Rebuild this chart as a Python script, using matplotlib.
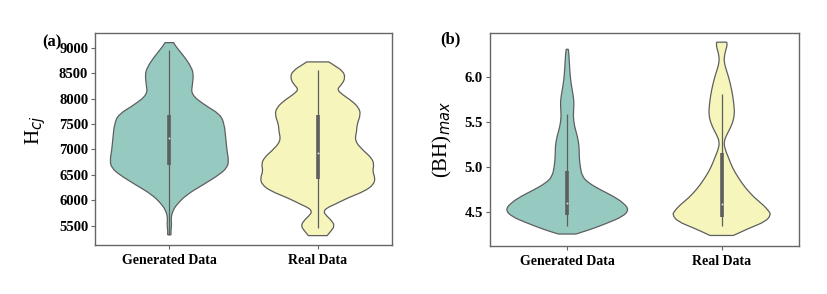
import numpy as np
import matplotlib
matplotlib.use("Agg")
import matplotlib.pyplot as plt
import seaborn as sns
from matplotlib.path import Path
from matplotlib.patches import PathPatch

plt.rcParams['font.family'] = ['Liberation Serif', 'DejaVu Serif']

groups = ["Generated Data", "Real Data"]

# violin outlines: level, relative half width (bottom -> top)
gen_hcj_lev = [5320, 5391, 5521, 5653, 5786, 5916, 6113, 6310, 6508, 6640, 6772, 6969,
               7231, 7494, 7691, 7888, 8086, 8283, 8480, 8612, 8809, 9006, 9104]
gen_hcj_w = [5, 4.5, 7, 5, 10, 22, 52, 102, 150, 172, 177, 172,
             168, 164, 152, 102, 65, 69, 72, 66, 47, 22, 12.5]
real_hcj_lev = [5303, 5391, 5489, 5588, 5719, 5786, 5851, 5916, 6048, 6179, 6310, 6442,
                6574, 6705, 6837, 6969, 7165, 7363, 7494, 7691, 7823, 7954, 8086, 8184,
                8283, 8414, 8546, 8677, 8724]
real_hcj_w = [28, 39, 50, 43, 22, 18, 28, 50, 90, 140, 167, 171,
              163, 168, 160, 137, 110, 116, 117, 128, 122, 102, 72, 57,
              72, 82, 75, 44, 33]

gen_bh_lev = [4.256, 4.303, 4.377, 4.451, 4.526, 4.600, 4.674, 4.748, 4.822, 4.896, 5.007,
              5.118, 5.229, 5.340, 5.451, 5.563, 5.674, 5.748, 5.859, 5.970, 6.118, 6.266, 6.311]
gen_bh_w = [26, 68, 120, 168, 186, 170, 140, 100, 65, 45, 39,
            36, 36, 31, 22, 18, 20, 20, 15, 10, 7, 5, 3]
real_bh_lev = [4.240, 4.322, 4.396, 4.470, 4.507, 4.581, 4.655, 4.766, 4.877, 4.989, 5.100,
               5.211, 5.285, 5.359, 5.470, 5.581, 5.692, 5.803, 5.914, 6.026, 6.137, 6.211,
               6.285, 6.360, 6.390]
real_bh_w = [35, 83, 133, 148, 143, 125, 100, 72, 51, 33, 21,
             9, 7, 15, 31, 39, 37, 33, 27, 19, 9, 7,
             11, 17, 15]

# box stats: whisker low, q1, median, q3, whisker high
gen_hcj_box = [5320, 6686, 7225, 7688, 8960]
real_hcj_box = [5462, 6413, 6932, 7688, 8562]
gen_bh_box = [4.34, 4.47, 4.60, 4.96, 5.59]
real_bh_box = [4.35, 4.45, 4.59, 5.155, 5.81]

pal = sns.color_palette("Set3", 2, desat=0.75)
gray = "#5e5e5e"


def smooth_side(pts):
    # quadratic curves through midpoints, so the outline has no corners
    verts = [pts[0]]
    codes = [Path.LINETO]
    for k in range(1, len(pts) - 1):
        mid = ((pts[k][0] + pts[k + 1][0]) / 2, (pts[k][1] + pts[k + 1][1]) / 2)
        verts += [pts[k], mid]
        codes += [Path.CURVE3, Path.CURVE3]
    verts.append(pts[-1])
    codes.append(Path.LINETO)
    return verts, codes


def violin_path(pos, lev, half):
    right = [(pos + h, y) for y, h in zip(lev, half)]
    left = [(pos - h, y) for y, h in zip(lev, half)][::-1]
    v1, c1 = smooth_side(right)
    v2, c2 = smooth_side(left)
    verts = [(pos - half[0], lev[0])] + v1 + v2 + [(0, 0)]
    codes = [Path.MOVETO] + c1 + c2 + [Path.CLOSEPOLY]
    return Path(verts, codes)


def draw_panel(ax, violins, boxes):
    wmax = max(max(w) for _, w in violins)
    for i, ((lev, w), box) in enumerate(zip(violins, boxes)):
        half = list(np.array(w) / wmax * 0.4)
        ax.add_patch(PathPatch(violin_path(i, lev, half), facecolor=pal[i],
                               edgecolor=gray, linewidth=0.9, zorder=1))
        ax.vlines(i, box[0], box[4], color=gray, linewidth=0.9, zorder=2)
        ax.vlines(i, box[1], box[3], color=gray, linewidth=2.6, zorder=3)
        ax.scatter([i], [box[2]], s=2, color="#dddddd", zorder=4, linewidths=0)
    ax.set_xticks(range(len(groups)))
    ax.set_xticklabels(groups, fontweight="bold", fontsize=10)
    ax.set_xlim(-0.5, 1.5)
    for s in ax.spines.values():
        s.set_color("#666666")
        s.set_linewidth(1.0)
    ax.tick_params(colors="#666666", length=3, width=0.8, labelcolor="black")
    ax.tick_params(axis="y", pad=2)
    for t in ax.get_yticklabels():
        t.set_fontweight("bold")
        t.set_fontsize(10.5)


fig = plt.figure(figsize=(8.27, 2.94), dpi=100)
ax1 = fig.add_axes([0.115, 0.167, 0.359, 0.721])
ax2 = fig.add_axes([0.5925, 0.163, 0.3735, 0.726])

ax1.set_ylim(5120, 9295)
ax1.set_yticks([5500, 6000, 6500, 7000, 7500, 8000, 8500, 9000])
draw_panel(ax1, [(gen_hcj_lev, gen_hcj_w), (real_hcj_lev, real_hcj_w)],
           [gen_hcj_box, real_hcj_box])
ax1.set_ylabel("H$_{cj}$", fontsize=15)
ax1.yaxis.set_label_coords(-0.16, 0.54)
ax1.text(-0.112, 0.955, "(a)", transform=ax1.transAxes, ha="right", va="center",
         fontsize=12, fontweight="bold")

ax2.set_ylim(4.122, 6.496)
ax2.set_yticks([4.5, 5.0, 5.5, 6.0])
draw_panel(ax2, [(gen_bh_lev, gen_bh_w), (real_bh_lev, real_bh_w)],
           [gen_bh_box, real_bh_box])
ax2.set_ylabel("(BH)$_{max}$", fontsize=15)
ax2.yaxis.set_label_coords(-0.115, 0.5)
ax2.text(-0.095, 0.97, "(b)", transform=ax2.transAxes, ha="right", va="center",
         fontsize=12, fontweight="bold")

fig.savefig("out.png", dpi=100)
